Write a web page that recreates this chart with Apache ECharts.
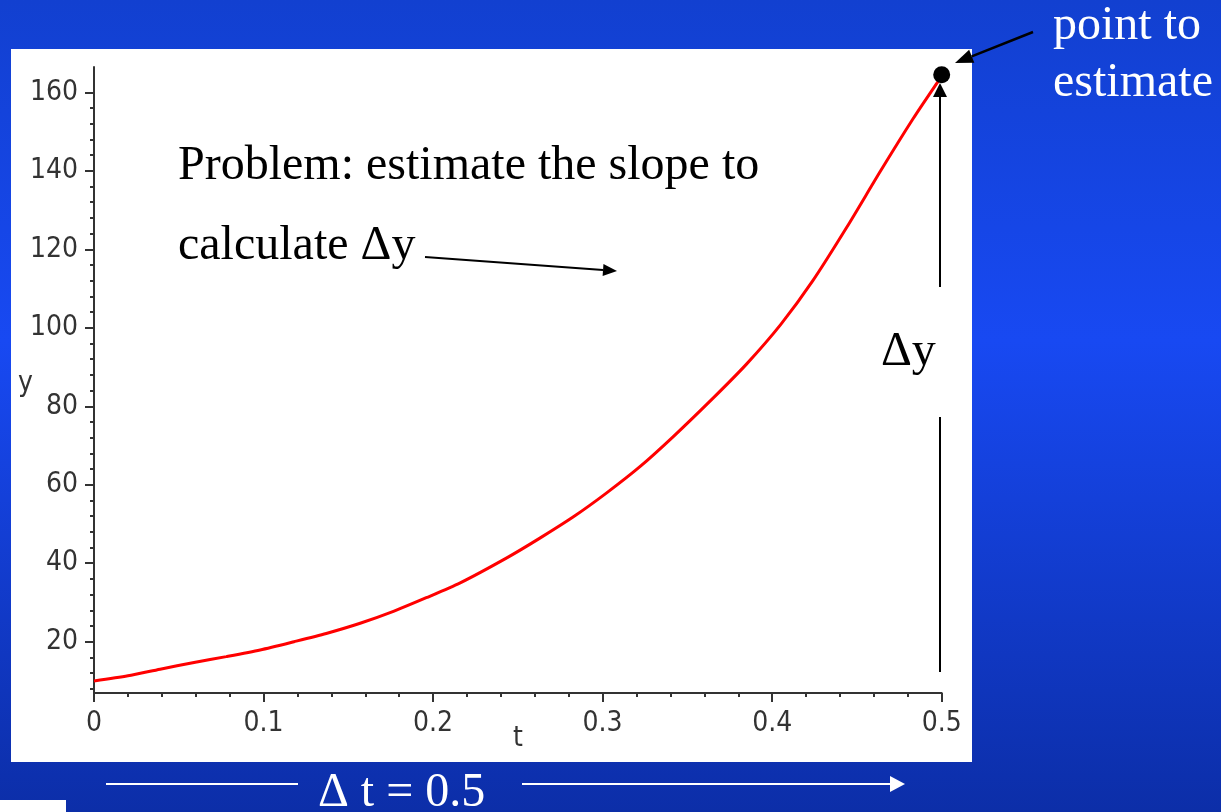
<!DOCTYPE html>
<html>
<head>
<meta charset="utf-8">
<script src="https://cdn.jsdelivr.net/npm/echarts@6/dist/echarts.min.js"></script>
<style>
  html, body { margin: 0; padding: 0; width: 1221px; height: 812px; overflow: hidden; }
  body { position: relative; background: linear-gradient(to bottom, #1240d0 0%, #1849f2 42%, #0c2ea8 100%); }
  .panel { position: absolute; background: #ffffff; }
  #chart { position: absolute; left: 0; top: 0; width: 1221px; height: 812px; }
</style>
</head>
<body>
<div class="panel" style="left:11px;top:49px;width:961px;height:713px"></div>
<div class="panel" style="left:0;top:800px;width:66px;height:12px"></div>
<div id="chart"></div>
<script>
// Growth curve y(t)
const tValues = [0, 0.02, 0.039, 0.059, 0.078, 0.098, 0.118, 0.137, 0.157, 0.177, 0.196, 0.216,
                 0.244, 0.263, 0.283, 0.302, 0.322, 0.342, 0.365, 0.385, 0.405, 0.424, 0.444, 0.464,
                 0.483, 0.496, 0.5];
const yValues = [10, 11.3, 13.0, 14.7, 16.2, 17.9, 20.0, 22.1, 24.7, 27.8, 31.2, 35.0,
                 41.5, 46.4, 51.9, 57.8, 64.6, 72.4, 82.0, 90.8, 100.8, 112.0, 125.6, 140.0,
                 153.2, 161.6, 164.0];

// Point whose value is to be estimated
const pointT = [0.5];
const pointY = [164.5];

// Axis ticks
const yMajorTicks = [20, 40, 60, 80, 100, 120, 140, 160];
const yMinorTicks = [8, 12, 16, 24, 28, 32, 36, 44, 48, 52, 56, 64, 68, 72, 76, 84, 88, 92, 96,
                     104, 108, 112, 116, 124, 128, 132, 136, 144, 148, 152, 156];

const AXIS_COLOR = '#333333';
const TICK_FONT = '"DejaVu Sans Condensed", "Liberation Sans", sans-serif';
const TICK_SIZE = 28;
const SERIF = '"Liberation Serif", "Times New Roman", serif';

function arrow(x1, y1, x2, y2, color, width, headLen, headHalf) {
  const dx = x2 - x1, dy = y2 - y1;
  const len = Math.sqrt(dx * dx + dy * dy);
  const ux = dx / len, uy = dy / len;
  const bx = x2 - ux * headLen, by = y2 - uy * headLen;
  const px = -uy * headHalf, py = ux * headHalf;
  return [
    { type: 'line', z: 100, shape: { x1: x1, y1: y1, x2: bx, y2: by },
      style: { stroke: color, lineWidth: width } },
    { type: 'polygon', z: 100, shape: { points: [[x2, y2], [bx + px, by + py], [bx - px, by - py]] },
      style: { fill: color } }
  ];
}

function label(text, x, y, color) {
  return { type: 'text', z: 100, x: x, y: y,
    style: { text: text, fill: color, font: '48px ' + SERIF,
             align: 'left', verticalAlign: 'middle', textAlign: 'left', textVerticalAlign: 'middle' } };
}

const chart = echarts.init(document.getElementById('chart'), null, { renderer: 'canvas' });

const yMin = 5.14, yMax = 166.46;

chart.setOption({
  backgroundColor: 'transparent',
  animation: false,
  grid: { left: 94, right: 279.3, top: 67, bottom: 112, containLabel: false, outerBoundsMode: 'none' },
  xAxis: {
    type: 'value', min: 0, max: 0.5, interval: 0.1,
    position: 'bottom', offset: -7,
    name: 't', nameLocation: 'middle', nameGap: 32, nameMoveOverlap: false,
    nameTextStyle: { color: AXIS_COLOR, fontFamily: TICK_FONT, fontSize: TICK_SIZE },
    axisLine: { show: true, lineStyle: { color: AXIS_COLOR, width: 2 } },
    axisTick: { show: true, inside: false, length: 9, lineStyle: { color: AXIS_COLOR, width: 2 } },
    minorTick: { show: true, splitNumber: 5, length: 4, lineStyle: { color: AXIS_COLOR, width: 2 } },
    axisLabel: { color: AXIS_COLOR, fontFamily: TICK_FONT, fontSize: TICK_SIZE, margin: 17,
                 formatter: v => String(Math.round(v * 10) / 10) },
    splitLine: { show: false },
    minorSplitLine: { show: false }
  },
  yAxis: [
    {
      type: 'value', min: yMin, max: yMax, position: 'left',
      name: 'y', nameLocation: 'middle', nameGap: 61, nameRotate: 0, nameMoveOverlap: false,
      nameTextStyle: { color: AXIS_COLOR, fontFamily: TICK_FONT, fontSize: TICK_SIZE },
      axisLine: { show: true, lineStyle: { color: AXIS_COLOR, width: 2 } },
      axisTick: { show: true, inside: false, length: 9, customValues: yMajorTicks,
                  lineStyle: { color: AXIS_COLOR, width: 2 } },
      axisLabel: { color: AXIS_COLOR, fontFamily: TICK_FONT, fontSize: TICK_SIZE, margin: 16,
                   customValues: yMajorTicks },
      splitLine: { show: false }
    },
    {
      type: 'value', min: yMin, max: yMax, position: 'left',
      axisLine: { show: false },
      axisTick: { show: true, inside: false, length: 4, customValues: yMinorTicks,
                  lineStyle: { color: AXIS_COLOR, width: 2 } },
      axisLabel: { show: false },
      splitLine: { show: false }
    }
  ],
  series: [
    {
      type: 'line', xAxisIndex: 0, yAxisIndex: 0,
      data: tValues.map((t, i) => [t, yValues[i]]),
      showSymbol: false, symbol: 'none', smooth: 0.25,
      lineStyle: { color: '#ff0000', width: 3 },
      z: 3
    },
    {
      type: 'scatter', xAxisIndex: 0, yAxisIndex: 0,
      data: pointT.map((t, i) => [t, pointY[i]]),
      symbol: 'circle', symbolSize: 17,
      itemStyle: { color: '#000000', opacity: 1 },
      z: 5
    }
  ],
  graphic: {
    elements: [
      label('Problem: estimate the slope to', 178, 166, '#000000'),
      label('calculate \u0394y', 178, 246, '#000000'),
      ...arrow(425, 257, 617, 271, '#000000', 2, 14, 6),
      label('\u0394y', 881, 352, '#000000'),
      { type: 'line', z: 100, shape: { x1: 940, y1: 417, x2: 940, y2: 672 },
        style: { stroke: '#000000', lineWidth: 2 } },
      ...arrow(940, 287, 940, 83, '#000000', 2, 14, 7),
      label('point to', 1053, 26, '#ffffff'),
      label('estimate', 1053, 83, '#ffffff'),
      ...arrow(1033, 32, 955, 63, '#000000', 2.5, 18, 7),
      { type: 'line', z: 100, shape: { x1: 106, y1: 784, x2: 298, y2: 784 },
        style: { stroke: '#ffffff', lineWidth: 2 } },
      label('\u0394 t = 0.5', 318, 793, '#ffffff'),
      ...arrow(522, 784, 905, 784, '#ffffff', 2, 15, 8)
    ]
  }
});
</script>
</body>
</html>
